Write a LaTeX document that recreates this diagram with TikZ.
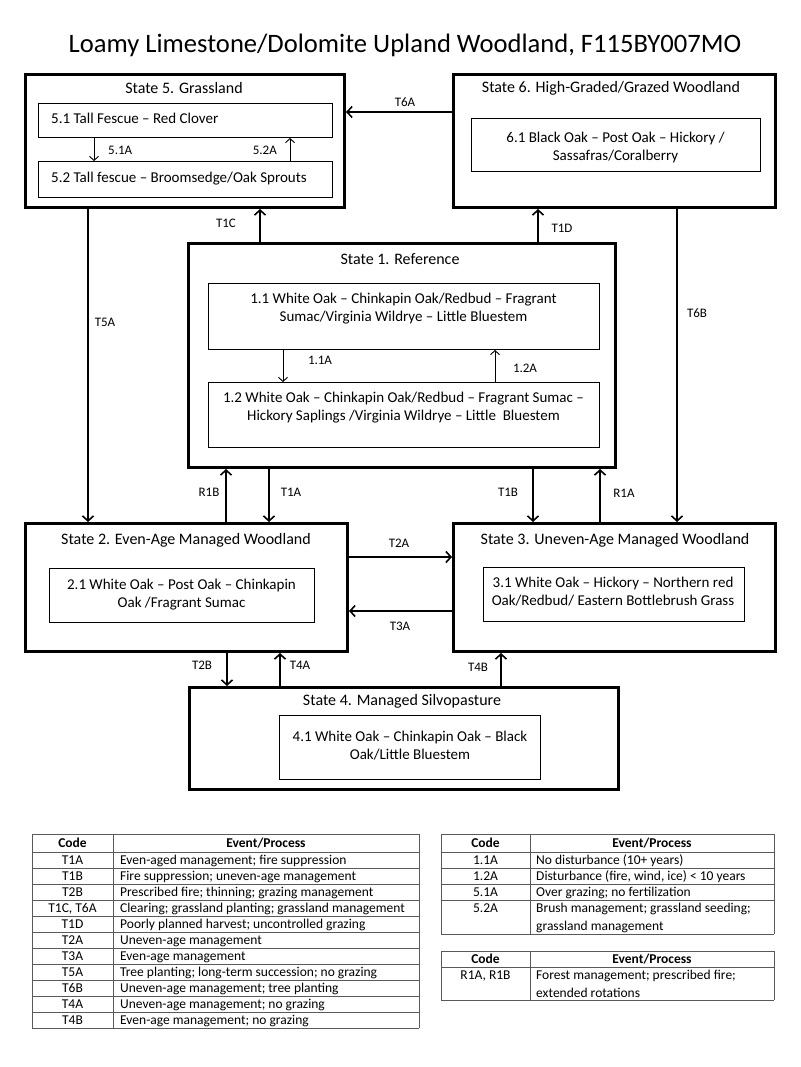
\documentclass[tikz,border=0pt]{standalone}
\usepackage{fontspec}
\setmainfont{Carlito}
\usetikzlibrary{arrows.meta}
\newcommand\fsTitle{\fontsize{26.6}{30}\selectfont}
\newcommand\fsState{\fontsize{16}{19}\selectfont}
\newcommand\fsInner{\fontsize{15}{18}\selectfont}
\newcommand\fsLab{\fontsize{13}{15}\selectfont}
\newcommand\fsTab{\fontsize{13.5}{17.5}\selectfont}
\tikzset{
  sbox/.style={draw, line width=3pt, inner sep=0pt, anchor=north west},
  ibox/.style={draw, line width=1pt, inner sep=0pt, anchor=north west},
  stitle/.style={font=\fsState, inner sep=0pt},
  itext/.style={font=\fsInner, inner sep=0pt, align=center},
  lab/.style={font=\fsLab, inner sep=0pt},
  tarr/.style={line width=2pt, -{Straight Barb[length=5pt,width=11pt,line width=1.6pt]}},
  thin arr/.style={line width=0.9pt, -{Straight Barb[length=4pt,width=9pt,line width=0.9pt]}},
  tline/.style={draw=black!65, line width=1pt},
  tcell/.style={font=\fsTab, inner sep=0pt, anchor=base},
  tev/.style={font=\fsTab, inner sep=0pt, anchor=base west},
  thead/.style={font=\fsTab\bfseries, inner sep=0pt, anchor=base},
}
\begin{document}
\begin{tikzpicture}[x=1pt,y=-1pt]
\useasboundingbox[fill=white] (0,0) rectangle (800,1067);

\node[font=\fsTitle, inner sep=0pt] (title) at (405,45) {Loamy Limestone/Dolomite Upland Woodland, F115BY007MO};

% State boxes
\node[sbox, minimum width=319pt, minimum height=133pt] (s5) at (24,73) {};
\node[sbox, minimum width=322pt, minimum height=133pt] (s6) at (452,73) {};
\node[sbox, minimum width=427pt, minimum height=224pt] (s1) at (187,242) {};
\node[sbox, minimum width=322pt, minimum height=128pt] (s2) at (24,522) {};
\node[sbox, minimum width=322pt, minimum height=128pt] (s3) at (452,522) {};
\node[sbox, minimum width=429pt, minimum height=102pt] (s4) at (188,686) {};

% State titles
\node[stitle] (s5t) at (184,88) {State 5. Grassland};
\node[stitle] (s6t) at (611,88) {State 6. High-Graded/Grazed Woodland};
\node[stitle] (s1t) at (400,259) {State 1. Reference};
\node[stitle] (s2t) at (186,540) {State 2. Even-Age Managed Woodland};
\node[stitle] (s3t) at (615,540) {State 3. Uneven-Age Managed Woodland};
\node[stitle] (s4t) at (402,701) {State 4. Managed Silvopasture};

% Inner boxes
\node[ibox, minimum width=294pt, minimum height=34pt] (b51) at (38,103) {};
\node[ibox, minimum width=294pt, minimum height=36pt] (b52) at (38,161) {};
\node[ibox, minimum width=289pt, minimum height=53pt] (b61) at (471,118) {};
\node[ibox, minimum width=391pt, minimum height=66pt] (b11) at (208,283) {};
\node[ibox, minimum width=391pt, minimum height=65pt] (b12) at (208,382) {};
\node[ibox, minimum width=265pt, minimum height=54pt] (b21) at (49,568) {};
\node[ibox, minimum width=261pt, minimum height=54pt] (b31) at (483,567) {};
\node[ibox, minimum width=261pt, minimum height=64pt] (b41) at (279,715) {};

% Inner texts
\node[itext, anchor=west] (t51) at (51,118) {5.1 Tall Fescue – Red Clover};
\node[itext, anchor=west] (t52) at (51,179) {5.2 Tall fescue – Broomsedge/Oak Sprouts};
\node[itext] (t61) at (615.5,148) {6.1 Black Oak – Post Oak – Hickory /\\Sassafras/Coralberry};
\node[itext] (t11) at (403.5,309) {1.1 White Oak – Chinkapin Oak/Redbud – Fragrant\\Sumac/Virginia Wildrye – Little Bluestem};
\node[itext] (t12) at (403.5,408) {1.2 White Oak – Chinkapin Oak/Redbud – Fragrant Sumac –\\Hickory Saplings /Virginia Wildrye – Little\ \ Bluestem};
\node[itext] (t21) at (181.5,595) {2.1 White Oak – Post Oak – Chinkapin\\Oak /Fragrant Sumac};
\node[itext] (t31) at (613,591.5) {3.1 White Oak – Hickory – Northern red\\Oak/Redbud/ Eastern Bottlebrush Grass};
\node[itext] (t41) at (410,745.5) {4.1 White Oak – Chinkapin Oak – Black\\Oak/Little Bluestem};

% x / y positions of connectors
\coordinate (x51A) at (94,0);
\coordinate (x52A) at (290,0);
\coordinate (x11A) at (283,0);
\coordinate (x12A) at (495,0);
\coordinate (yT6A) at (0,112);
\coordinate (xT1C) at (260,0);
\coordinate (xT1D) at (538,0);
\coordinate (xT5A) at (88,0);
\coordinate (xT6B) at (677,0);
\coordinate (xR1B) at (226,0);
\coordinate (xT1A) at (269,0);
\coordinate (xT1B) at (533,0);
\coordinate (xR1A) at (600,0);
\coordinate (yT2A) at (0,557);
\coordinate (yT3A) at (0,611);
\coordinate (xT2B) at (227,0);
\coordinate (xT4A) at (280,0);
\coordinate (xT4B) at (501,0);

% Thin arrows inside states
\draw[thin arr] (b51.south -| x51A) -- (b52.north -| x51A);
\draw[thin arr] (b52.north -| x52A) -- (b51.south -| x52A);
\draw[thin arr] (b11.south -| x11A) -- (b12.north -| x11A);
\draw[thin arr] (b12.north -| x12A) -- (b11.south -| x12A);

% Transitions
\draw[tarr] (s6.west |- yT6A) -- (s5.east |- yT6A);
\draw[tarr] (s1.north -| xT1C) -- (s5.south -| xT1C);
\draw[tarr] (s1.north -| xT1D) -- (s6.south -| xT1D);
\draw[tarr] (s5.south -| xT5A) -- (s2.north -| xT5A);
\draw[tarr] (s6.south -| xT6B) -- (s3.north -| xT6B);
\draw[tarr] (s2.north -| xR1B) -- (s1.south -| xR1B);
\draw[tarr] (s1.south -| xT1A) -- (s2.north -| xT1A);
\draw[tarr] (s1.south -| xT1B) -- (s3.north -| xT1B);
\draw[tarr] (s3.north -| xR1A) -- (s1.south -| xR1A);
\draw[tarr] (s2.east |- yT2A) -- (s3.west |- yT2A);
\draw[tarr] (s3.west |- yT3A) -- (s2.east |- yT3A);
\draw[tarr] (s2.south -| xT2B) -- (s4.north -| xT2B);
\draw[tarr] (s4.north -| xT4A) -- (s2.south -| xT4A);
\draw[tarr] (s4.north -| xT4B) -- (s3.south -| xT4B);

% Labels
\node[lab, anchor=west] (l51A) at (108,150) {5.1A};
\node[lab, anchor=east] (l52A) at (277,150) {5.2A};
\node[lab] (l11A) at (320,360) {1.1A};
\node[lab] (l12A) at (525,368) {1.2A};
\node[lab] (lT6A) at (405,102) {T6A};
\node[lab] (lT1C) at (226,223) {T1C};
\node[lab] (lT1D) at (562,228) {T1D};
\node[lab] (lT5A) at (105,322) {T5A};
\node[lab] (lT6B) at (697,313) {T6B};
\node[lab] (lR1B) at (209,492) {R1B};
\node[lab] (lT1A) at (291,492) {T1A};
\node[lab] (lT1B) at (508,492) {T1B};
\node[lab] (lR1A) at (624,493) {R1A};
\node[lab] (lT2A) at (399,543) {T2A};
\node[lab] (lT3A) at (400,626) {T3A};
\node[lab] (lT2B) at (202,665) {T2B};
\node[lab] (lT4A) at (300,665) {T4A};
\node[lab] (lT4B) at (478,667) {T4B};

% Table 1
\foreach \yy in {834,852,868,884,900,916,932,948,964,980,996,1012,1028}
  \draw[tline] (32,\yy) -- (419,\yy);
\foreach \xx in {32,113,419}
  \draw[tline] (\xx,834) -- (\xx,1028);
\node[thead] (a0c) at (72.5,847.5) {Code};
\node[thead] (a0e) at (266,847.5) {Event/Process};
\foreach \c/\e [count=\i from 0] in {
  T1A/{Even-aged management; fire suppression},
  T1B/{Fire suppression; uneven-age management},
  T2B/{Prescribed fire; thinning; grazing management},
  {T1C, T6A}/{Clearing; grassland planting; grassland management},
  T1D/{Poorly planned harvest; uncontrolled grazing},
  T2A/{Uneven-age management},
  T3A/{Even-age management},
  T5A/{Tree planting; long-term succession; no grazing},
  T6B/{Uneven-age management; tree planting},
  T4A/{Uneven-age management; no grazing},
  T4B/{Even-age management; no grazing}}{
  \node[tcell] (ac\i) at (72.5,864.5+16*\i) {\c};
  \node[tev] (ae\i) at (120,864.5+16*\i) {\e};
}

% Table 2
\foreach \yy in {834,852,868,884,900,934}
  \draw[tline] (441,\yy) -- (774,\yy);
\foreach \xx in {441,530,774}
  \draw[tline] (\xx,834) -- (\xx,934);
\node[thead] (b0c) at (485.5,847.5) {Code};
\node[thead] (b0e) at (652,847.5) {Event/Process};
\node[tcell] (bc1) at (485.5,864.5) {1.1A};
\node[tev] (be1) at (536,864.5) {No disturbance (10+ years)};
\node[tcell] (bc2) at (485.5,880.5) {1.2A};
\node[tev] (be2) at (536,880.5) {Disturbance (fire, wind, ice) < 10 years};
\node[tcell] (bc3) at (485.5,896.5) {5.1A};
\node[tev] (be3) at (536,896.5) {Over grazing; no fertilization};
\node[tcell] (bc4) at (485.5,912.5) {5.2A};
\node[tev] (be4) at (536,912.5) {Brush management; grassland seeding;};
\node[tev] (be4b) at (536,930) {grassland management};

% Table 3
\foreach \yy in {951,967,1000}
  \draw[tline] (441,\yy) -- (774,\yy);
\foreach \xx in {441,530,774}
  \draw[tline] (\xx,951) -- (\xx,1000);
\node[thead] (c0c) at (485.5,963.5) {Code};
\node[thead] (c0e) at (652,963.5) {Event/Process};
\node[tcell] (cc1) at (485.5,979.5) {R1A, R1B};
\node[tev] (ce1) at (536,979.5) {Forest management; prescribed fire;};
\node[tev] (ce1b) at (536,997) {extended rotations};
\end{tikzpicture}
\end{document}
